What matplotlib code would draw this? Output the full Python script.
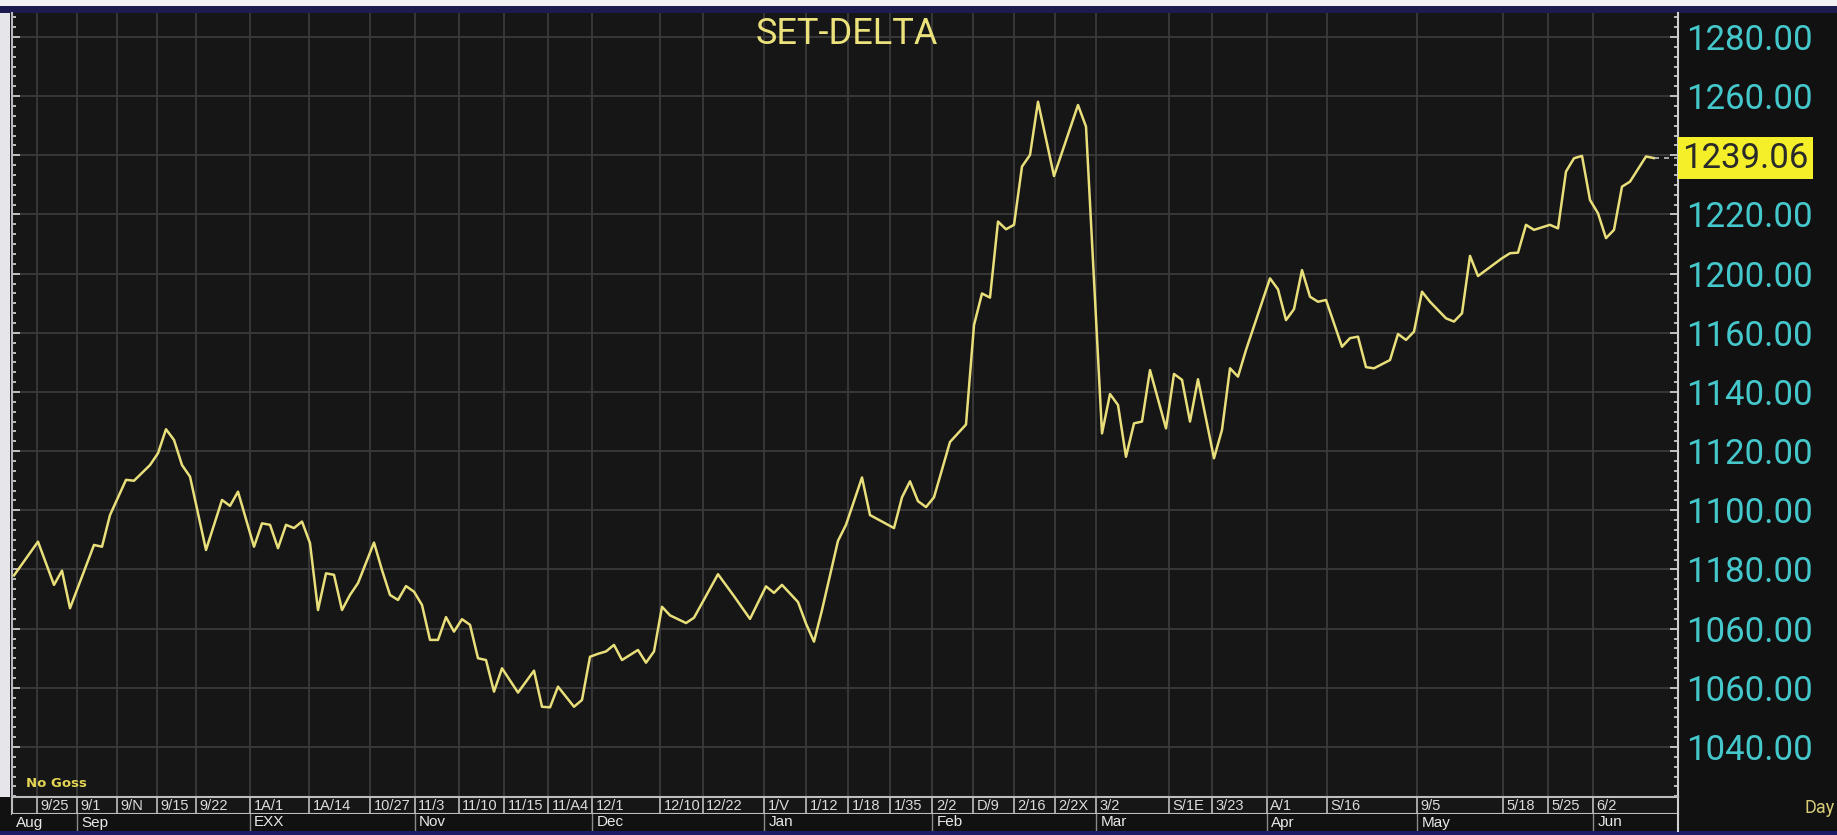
import matplotlib.pyplot as plt
import matplotlib.transforms as mtransforms
from matplotlib.patches import Rectangle
from matplotlib.ticker import AutoMinorLocator

# ---- data ----
days = [0, 3, 5, 6, 7, 10, 11, 12, 14, 15, 17, 18, 19, 20, 21, 22, 24, 26, 27, 28,
        30, 31, 32, 33, 34, 35, 36, 37, 38, 39, 40, 41, 42, 43, 45, 46, 47, 48, 49, 50,
        51, 52, 53, 54, 55, 56, 57, 58, 59, 60, 61, 63, 65, 66, 67, 68, 70, 71, 72, 73,
        74, 75, 76, 78, 79, 80, 81, 82, 84, 85, 88, 90, 92, 94, 95, 96, 98, 99, 100, 101,
        103, 104, 106, 107, 110, 111, 112, 113, 114, 115, 117, 119, 120, 121, 122, 123, 124, 125, 126, 127,
        128, 130, 133, 134, 136, 137, 138, 139, 140, 141, 142, 144, 145, 146, 147, 148, 150, 151, 152, 153,
        154, 157, 158, 159, 160, 161, 162, 163, 164, 166, 167, 168, 169, 170, 172, 173, 174, 175, 176, 177,
        179, 180, 181, 182, 183, 186, 187, 188, 189, 190, 192, 193, 194, 195, 196, 197, 198, 199, 200, 201,
        202, 204, 205]
close = [1098.0, 1109.4, 1094.8, 1099.6, 1086.9, 1108.3, 1107.7, 1118.4, 1130.3, 1130.0,
         1135.3, 1139.3, 1147.4, 1143.8, 1135.3, 1131.4, 1106.6, 1123.5, 1121.5, 1126.3,
         1107.7, 1115.6, 1115.1, 1107.2, 1115.1, 1114.0, 1116.2, 1108.9, 1086.3, 1098.7,
         1098.2, 1086.3, 1091.4, 1095.4, 1109.1, 1099.8, 1091.4, 1089.7, 1094.4, 1092.5,
         1088.0, 1076.2, 1076.2, 1083.9, 1079.0, 1083.2, 1081.3, 1070.0, 1069.4, 1058.7,
         1066.6, 1058.4, 1065.8, 1053.6, 1053.4, 1060.4, 1053.6, 1055.9, 1070.5, 1071.5,
         1072.3, 1074.5, 1069.4, 1072.8, 1068.5, 1072.3, 1087.4, 1084.5, 1081.9, 1083.7,
         1098.4, 1091.0, 1083.3, 1094.3, 1092.1, 1094.8, 1089.0, 1081.7, 1075.6, 1086.3,
         1109.7, 1115.1, 1131.1, 1118.4, 1114.0, 1124.4, 1129.8, 1123.1, 1121.1, 1124.4,
         1143.1, 1149.0, 1182.6, 1193.3, 1191.9, 1217.6, 1215.0, 1216.5, 1236.2, 1240.1,
         1258.1, 1233.0, 1257.0, 1249.7, 1146.0, 1159.3, 1155.6, 1138.1, 1149.4, 1150.0,
         1167.4, 1147.7, 1166.1, 1164.1, 1150.0, 1164.3, 1137.6, 1147.2, 1168.0, 1165.2,
         1174.2, 1198.4, 1194.7, 1184.3, 1188.0, 1201.2, 1192.2, 1190.5, 1191.1, 1175.3,
         1178.2, 1178.7, 1168.4, 1168.0, 1170.8, 1179.6, 1177.6, 1180.4, 1193.9, 1190.5,
         1184.9, 1183.8, 1186.6, 1206.0, 1199.2, 1205.2, 1206.9, 1207.1, 1216.5, 1214.8,
         1216.5, 1215.3, 1234.5, 1239.0, 1239.8, 1224.9, 1220.4, 1212.0, 1214.8, 1229.4,
         1231.1, 1239.6, 1239.06]
last_close = 1239.06

price_ticks = [1040, 1060, 1080, 1100, 1120, 1140, 1160, 1180, 1200, 1220, 1240, 1260, 1280]
price_labels = ['1040.00', '1060.00', '1060.00', '1180.00', '1100.00', '1120.00', '1140.00',
                '1160.00', '1200.00', '1220.00', '', '1260.00', '1280.00']

date_days = [2.9, 7.9, 12.9, 17.9, 22.8, 29.5, 36.9, 44.5, 50.1, 55.6, 61.3, 66.8, 72.3,
             80.8, 86.1, 93.8, 99.0, 104.3, 109.5, 114.8, 119.9, 125.0, 130.1, 135.3,
             144.4, 149.8, 156.6, 164.1, 175.4, 186.1, 191.8, 197.4]
date_labels = ['9/25', '9/1', '9/N', '9/15', '9/22', '1A/1', '1A/14', '10/27', '11/3', '11/10',
               '11/15', '11/A4', '12/1', '12/10', '12/22', '1/V', '1/12', '1/18', '1/35', '2/2',
               'D/9', '2/16', '2/2X', '3/2', 'S/1E', '3/23', 'A/1', 'S/16', '9/5', '5/18',
               '5/25', '6/2']
month_days = [-0.25, 7.9, 29.5, 50.1, 72.3, 93.8, 114.8, 135.3, 156.6, 175.4, 197.4]
month_labels = ['Aug', 'Sep', 'EXX', 'Nov', 'Dec', 'Jan', 'Feb', 'Mar', 'Apr', 'May', 'Jun']

W, H, DPI = 1837, 835, 100
XMIN, XMAX = -0.25, 208
YMIN, YMAX = 1023.1, 1288.1


def px_box(left, top, right, bottom):
    return [left / W, 1 - bottom / H, (right - left) / W, (bottom - top) / H]


def fig_rect(left, top, right, bottom, color):
    fig.add_artist(Rectangle((left / W, 1 - bottom / H), (right - left) / W, (bottom - top) / H,
                             transform=fig.transFigure, color=color, lw=0, zorder=0))


fig = plt.figure(figsize=(W / DPI, H / DPI), dpi=DPI, facecolor='#111111')

# window chrome
fig_rect(0, 0, W, 6, '#f2f2f2')
fig_rect(0, 6, W, 13, '#1c1b4e')
fig_rect(0, 13, 10, 797, '#e6e6ea')
fig_rect(0, 831, W, H, '#1b1b66')

# ---- main price panel ----
ax = fig.add_axes(px_box(12, 13, 1678, 797))
ax.set_facecolor('#161616')
ax.plot(days, close, color='#e8de7a', lw=1.8, solid_joinstyle='round', zorder=3)
ax.plot([days[-1], XMAX], [last_close, last_close], color='#bdbdbd', lw=1.2,
        ls=(0, (3, 3)), zorder=3)
ax.set_xlim(XMIN, XMAX)
ax.set_ylim(YMIN, YMAX)

ax.set_xticks(date_days)
ax.tick_params(axis='x', length=0, labelbottom=False)
ax.set_yticks(price_ticks, price_labels, family='Roboto')
ax.yaxis.set_minor_locator(AutoMinorLocator(6))
ax.tick_params(axis='y', which='both', direction='in', left=True, right=True,
               labelleft=False, labelright=True, color='#d8d8d8', width=1.2,
               labelcolor='#45c8cc', labelsize=25, pad=6)
ax.tick_params(axis='y', which='major', length=6)
ax.tick_params(axis='y', which='minor', length=3)
ax.grid(True, which='major', color='#3a3a3a', lw=1.3)

for side in ['top', 'bottom']:
    ax.spines[side].set_visible(False)
ax.spines['right'].set_color('#cfcfcf')
ax.spines['right'].set_linewidth(1.5)
ax.spines['left'].set_color('#b8b8c0')
ax.spines['left'].set_linewidth(1.5)

ax.text(0.501, 0.973, 'SET-DELTA', transform=ax.transAxes, ha='center', va='center',
        fontsize=26, color='#ece27c', family='Roboto')
ax.text(0.0084, 0.0166, 'No Goss', transform=ax.transAxes, ha='left', va='center',
        fontsize=9.5, fontweight='bold', color='#e3d453')

tr = mtransforms.blended_transform_factory(ax.transAxes, ax.transData)
ax.annotate('1239.06', xy=(1.0, last_close), xycoords=tr, xytext=(3, 0),
            textcoords='offset points', ha='left', va='center', fontsize=25,
            family='Roboto', color='#2a2a2a', annotation_clip=False,
            bbox=dict(boxstyle='square,pad=0.12', fc='#f5ef2a', ec='none'))

# ---- date strip ----
dax = fig.add_axes(px_box(12, 797, 1678, 814))
dax.set_facecolor('#161616')
dax.set_xlim(XMIN, XMAX)
dax.set_ylim(0, 1)
dax.set_xticks([])
dax.set_yticks([])
for side in dax.spines:
    dax.spines[side].set_color('#bdbdbd')
    dax.spines[side].set_linewidth(1.5)
dax.spines['right'].set_color('#cfcfcf')
for d, lab in zip(date_days, date_labels):
    dax.axvline(d, color='#bdbdbd', lw=1.2)
    dax.annotate(lab, xy=(d, 0.5), xycoords=('data', 'axes fraction'), xytext=(2.5, 0),
                 textcoords='offset points', ha='left', va='center', fontsize=10.5,
                 family='Liberation Sans', color='#dcdcdc')

# ---- month row ----
max_ = fig.add_axes(px_box(12, 814, 1678, 831))
max_.set_facecolor('#111111')
max_.set_xlim(XMIN, XMAX)
max_.set_ylim(0, 1)
max_.set_xticks([])
max_.set_yticks([])
for side in ['top', 'bottom', 'left']:
    max_.spines[side].set_visible(False)
max_.spines['right'].set_color('#cfcfcf')
max_.spines['right'].set_linewidth(1.5)
for d, lab in zip(month_days, month_labels):
    if d > XMIN:
        max_.axvline(d, color='#8a8a8a', lw=1.0)
    max_.annotate(lab, xy=(d, 0.5), xycoords=('data', 'axes fraction'), xytext=(3, 0),
                  textcoords='offset points', ha='left', va='center', fontsize=11,
                  family='Liberation Sans', color='#e8e8e8')

fig.text(1835 / W, 1 - 808 / H, 'Day', ha='right', va='center', fontsize=13,
         color='#d6cc78', family='Roboto')

fig.savefig('out.png', dpi=DPI, facecolor=fig.get_facecolor())
